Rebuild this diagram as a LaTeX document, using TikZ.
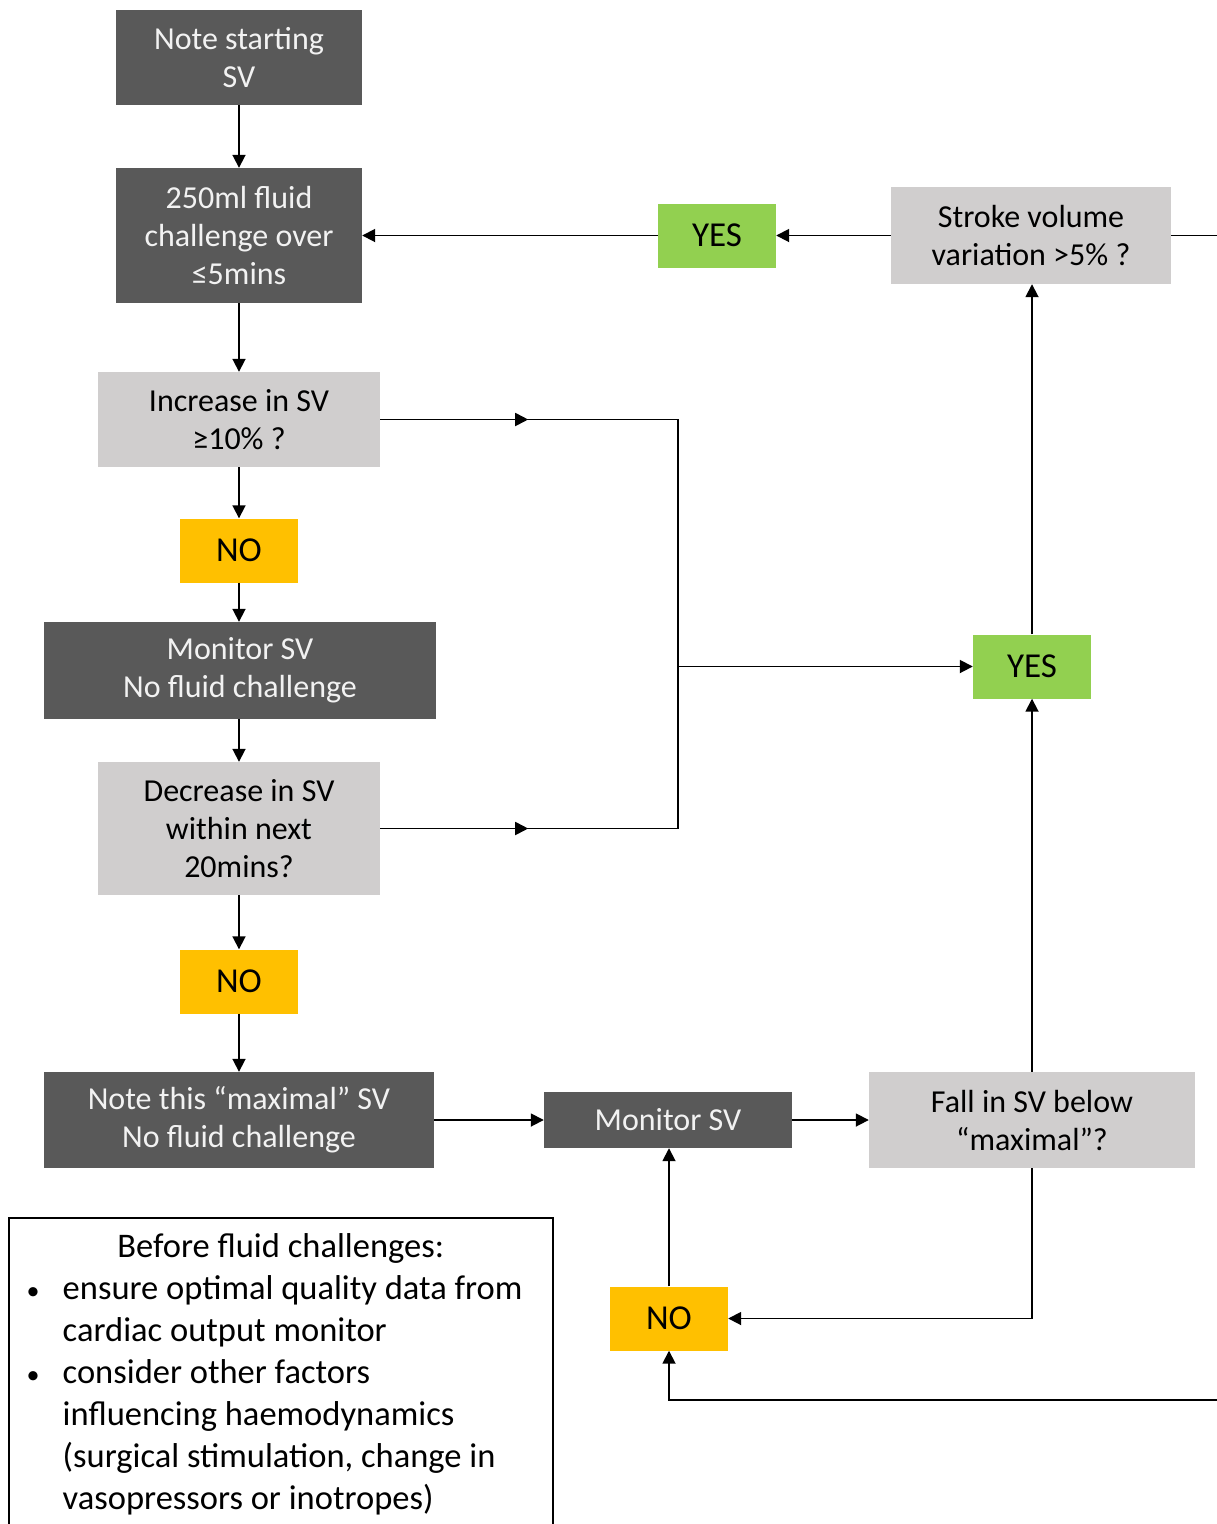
\documentclass[tikz,border=0pt]{standalone}
\usepackage{fontspec}
\setmainfont{Carlito}
\usetikzlibrary{arrows.meta,decorations.markings}
\definecolor{darkbox}{HTML}{595959}
\definecolor{lightbox}{HTML}{D0CECE}
\definecolor{greenbox}{HTML}{92D050}
\definecolor{yellowbox}{HTML}{FFC000}
\definecolor{lighttext}{HTML}{F2F2F2}
\newcommand{\notebullet}{{\fontsize{26}{42}\selectfont\textbullet}}
\begin{document}
\begin{tikzpicture}[x=1pt,y=-1pt,
  box/.style={rectangle, inner sep=0pt, align=center, font=\fontsize{32}{38}\selectfont},
  darkstep/.style={box, fill=darkbox, text=lighttext},
  lightstep/.style={box, fill=lightbox, text=black},
  yesbox/.style={box, fill=greenbox, text=black, minimum width=118pt, minimum height=64pt, font=\fontsize{35}{38}\selectfont},
  nobox/.style={box, fill=yellowbox, text=black, minimum width=118pt, minimum height=64pt, font=\fontsize{35}{38}\selectfont},
  conn/.style={line width=1.8pt, -{Triangle[length=13pt,width=13pt]}},
  plainconn/.style={line width=1.8pt},
  midarrow/.style={postaction={decorate}, decoration={markings, mark=at position #1 with {\arrow{Triangle[length=13pt,width=13pt]}}}}
]
\useasboundingbox (0,0) rectangle (1216,1524);

\node[darkstep, minimum width=246pt, minimum height=95pt] (n1) at (239,57.5) {Note starting\\SV};
\node[darkstep, minimum width=246pt, minimum height=135pt] (n2) at (239,235.5) {250ml fluid\\challenge over\\≤5mins};
\node[lightstep, minimum width=282pt, minimum height=95pt] (q1) at (239,419.5) {Increase in SV\\≥10\% ?};
\node[nobox] (no1) at (239,550.5) {NO};
\node[darkstep, minimum width=392pt, minimum height=97pt] (m1) at (240,670.5) {Monitor SV\\No fluid challenge};
\node[lightstep, minimum width=282pt, minimum height=133pt] (q2) at (239,828.5) {Decrease in SV\\within next\\20mins?};
\node[nobox] (no2) at (239,981.5) {NO};
\node[darkstep, minimum width=390pt, minimum height=96pt] (n3) at (239,1120) {Note this “maximal” SV\\No fluid challenge};
\node[darkstep, minimum width=248pt, minimum height=56pt] (m2) at (668,1120) {Monitor SV};
\node[lightstep, minimum width=326pt, minimum height=96pt] (q3) at (1032,1120) {Fall in SV below\\“maximal”?};
\node[nobox] (no3) at (669,1318.5) {NO};
\node[yesbox] (yes2) at (1032,666.5) {YES};
\node[lightstep, minimum width=280pt, minimum height=97pt] (q4) at (1031,235.5) {Stroke volume\\variation >5\% ?};
\node[yesbox] (yes1) at (717,235.5) {YES};

\coordinate (junction) at (678,666.5);
\coordinate (exitR) at (1230,235.5);
\coordinate (entR) at (1230,1400);

% left column
\draw[conn] (n1.south) -- (n2.north);
\draw[conn] (n2.south) -- (n2.south |- q1.north);
\draw[conn] (q1.south) -- (q1.south |- no1.north);
\draw[conn] (no1.south) -- (no1.south |- m1.north);
\draw[conn] (m1.south -| q2.north) -- (q2.north);
\draw[conn] (q2.south) -- (no2.north);
\draw[conn] (no2.south) -- (no2.south |- n3.north);

% bottom row
\draw[conn] (n3.east) -- (m2.west);
\draw[conn] (m2.east) -- (q3.west);
\draw[conn] (q3.south) |- (no3.east);
\draw[conn] (no3.north) -- (no3.north |- m2.south);
\draw[conn] (entR) -| (no3.south);

% right column
\draw[conn] (q3.north) -- (yes2.south);
\draw[conn] (yes2.north) -- (yes2.north |- q4.south);
\draw[conn] (q4.west) -- (yes1.east);
\draw[conn] (yes1.west) -- (yes1.west -| n2.east);
\draw[plainconn] (q4.east) -- (exitR);

% decision branches to YES
\draw[conn, midarrow=148pt] (q1.east) -- (q1.east -| junction) -- (junction) -- (yes2.west);
\draw[plainconn, midarrow=148pt] (q2.east) -- (q2.east -| junction) -- (junction);

% note box
\node[draw, line width=1.5pt, anchor=north west, inner xsep=0pt, inner ysep=10pt,
      minimum width=544pt,
      font=\fontsize{34.5}{42}\selectfont] (note) at (8,1217)
{\begin{tabular}[t]{@{\hspace{18pt}}p{36pt}@{}p{490pt}@{}}
\multicolumn{2}{@{}p{544pt}@{}}{\centering Before fluid challenges:}\\
\notebullet & ensure optimal quality data from\\
 & cardiac output monitor\\
\notebullet & consider other factors\\
 & influencing haemodynamics\\
 & (surgical stimulation, change in\\
 & vasopressors or inotropes)\\
 & \\
\end{tabular}};
\end{tikzpicture}
\end{document}
